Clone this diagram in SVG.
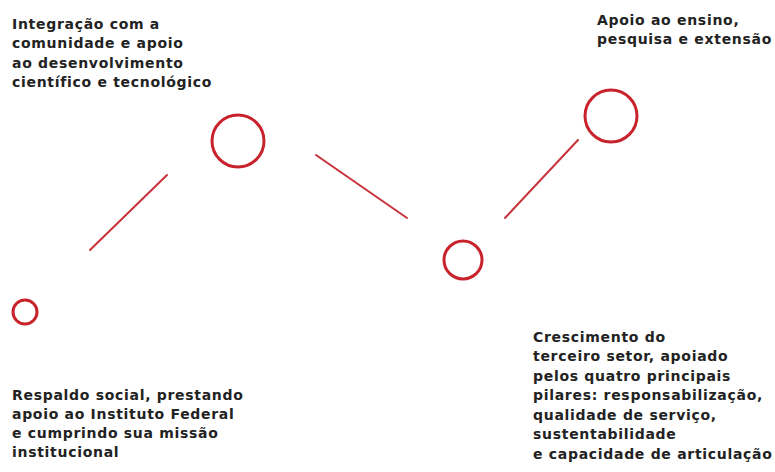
<svg xmlns="http://www.w3.org/2000/svg" width="775" height="472" viewBox="0 0 775 472">
<style>
.n{fill:none;stroke:#c8232c;stroke-width:3}
.c{stroke:#c8323a;stroke-width:2;stroke-linecap:round}
.t{font-family:"DejaVu Sans",Verdana,sans-serif;font-size:14px;font-weight:bold;fill:#222;letter-spacing:0.7px}
</style>
<rect width="775" height="472" fill="#fff"/>
<g id="connectors">
<line class="c" x1="90" y1="250" x2="167" y2="175"/>
<line class="c" x1="316" y1="155" x2="407" y2="218"/>
<line class="c" x1="505" y1="218" x2="578" y2="140"/>
</g>
<g id="node1">
<circle class="n" cx="25" cy="312" r="12"/>
<text class="t" x="12" y="400">Respaldo social, prestando</text>
<text class="t" x="12" y="419">apoio ao Instituto Federal</text>
<text class="t" x="12" y="438">e cumprindo sua missão</text>
<text class="t" x="12" y="457">institucional</text>
</g>
<g id="node2">
<circle class="n" cx="238" cy="141" r="26"/>
<text class="t" x="12" y="29">Integração com a</text>
<text class="t" x="12" y="48">comunidade e apoio</text>
<text class="t" x="12" y="68">ao desenvolvimento</text>
<text class="t" x="12" y="87">científico e tecnológico</text>
</g>
<g id="node3">
<circle class="n" cx="463" cy="260" r="19"/>
<text class="t" x="533" y="342">Crescimento do</text>
<text class="t" x="533" y="361">terceiro setor, apoiado</text>
<text class="t" x="533" y="381">pelos quatro principais</text>
<text class="t" x="533" y="400">pilares: responsabilização,</text>
<text class="t" x="533" y="420">qualidade de serviço,</text>
<text class="t" x="533" y="439">sustentabilidade</text>
<text class="t" x="533" y="459">e capacidade de articulação</text>
</g>
<g id="node4">
<circle class="n" cx="611" cy="116" r="26"/>
<text class="t" x="597" y="25">Apoio ao ensino,</text>
<text class="t" x="597" y="44">pesquisa e extensão</text>
</g>
</svg>
